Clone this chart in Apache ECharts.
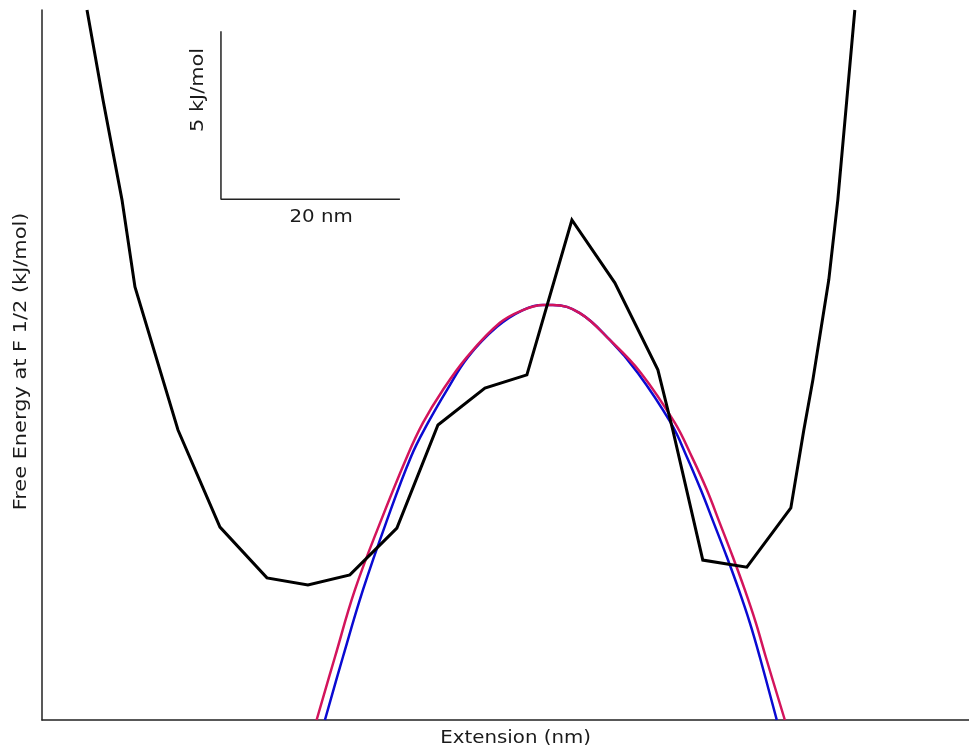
<!DOCTYPE html>
<html>
<head>
<meta charset="utf-8">
<title>Free energy profile</title>
<script src="https://cdn.jsdelivr.net/npm/echarts@6/dist/echarts.min.js"></script>
<style>
  html, body { margin: 0; padding: 0; background: #fff; }
  #chart { width: 969px; height: 754px; }
</style>
</head>
<body>
<div id="chart"></div>
<script>
// Free energy profile (black), with two fitted barrier curves (blue, crimson).
// Extension in nm, energy in kJ/mol; the axes carry no ticks, a scale bar gives units.

const profileX = [5.03, 6.82, 8.94, 10.39, 15.20, 19.89, 25.14, 29.72, 34.41, 39.66, 44.25, 49.50, 54.19,
                  59.22, 64.02, 68.83, 70.50, 73.85, 78.77, 83.69, 85.14, 86.15, 87.93, 88.94, 89.94, 90.84];
const profileY = [21.13, 18.45, 15.48, 12.89, 8.63, 5.74, 4.23, 4.02, 4.32, 5.71, 8.78, 9.88, 10.27,
                  14.88, 13.01, 10.42, 8.63, 4.76, 4.55, 6.31, 8.63, 10.12, 13.10, 15.48, 18.45, 21.13];

const fitRedX = [30.69, 32.74, 34.97, 37.77, 40.78, 42.57, 44.80, 47.49, 51.17, 53.74, 55.98, 57.09,
                 60.11, 63.46, 66.93, 70.73, 72.63, 74.30, 75.75, 77.21, 78.55, 79.78, 80.89, 83.02];
const fitRedY = [0, 1.875, 3.87, 5.86, 7.83, 8.84, 9.82, 10.80, 11.82, 12.20, 12.35, 12.35,
                 12.11, 11.31, 10.33, 8.84, 7.83, 6.85, 5.86, 4.85, 3.87, 2.89, 1.875, 0];

const fitBlueX = [31.62, 33.63, 35.87, 38.44, 41.23, 43.13, 45.25, 47.60, 50.84, 53.74, 55.98, 57.09,
                  60.11, 63.46, 66.59, 70.28, 72.07, 73.63, 75.08, 76.54, 77.88, 79.11, 80.22, 82.12];
const fitBlueY = [0, 1.875, 3.87, 5.86, 7.83, 8.84, 9.82, 10.80, 11.70, 12.20, 12.35, 12.35,
                  12.11, 11.31, 10.33, 8.84, 7.83, 6.85, 5.86, 4.85, 3.87, 2.89, 1.875, 0];

// Scale bar: 20 nm horizontally, 5 kJ/mol vertically, anchored at its corner.
const scaleBarCorner = [20, 15.5];
const scaleBarNm = 20;
const scaleBarKJ = 5;
const scaleLabelEnergy = '5 kJ/mol';
const scaleLabelLength = '20 nm';
const xTitle = 'Extension (nm)';
const yTitle = 'Free Energy at F 1/2 (kJ/mol)';

const xRange = [0, 103.6];
const yRange = [0, 21.13];

const zip = (xs, ys) => xs.map((x, i) => [x, ys[i]]);
const font = '"DejaVu Sans", Verdana, sans-serif';
const ink = '#1a1a1a';

const chart = echarts.init(document.getElementById('chart'), null, { renderer: 'canvas' });

const scaleBarData = [
  [scaleBarCorner[0], scaleBarCorner[1] + scaleBarKJ],
  [scaleBarCorner[0], scaleBarCorner[1]],
  [scaleBarCorner[0] + scaleBarNm, scaleBarCorner[1]]
];

chart.setOption({
  animation: false,
  backgroundColor: '#ffffff',
  grid: { left: 42, right: 0, top: 10, bottom: 34, containLabel: false },
  xAxis: {
    type: 'value', min: xRange[0], max: xRange[1],
    axisLine: { show: true, onZero: false, lineStyle: { color: '#222', width: 1.5 } },
    axisTick: { show: false }, axisLabel: { show: false }, splitLine: { show: false }
  },
  yAxis: {
    type: 'value', min: yRange[0], max: yRange[1],
    axisLine: { show: true, onZero: false, lineStyle: { color: '#222', width: 1.5 } },
    axisTick: { show: false }, axisLabel: { show: false }, splitLine: { show: false }
  },
  series: [
    {
      name: 'scale bar', type: 'line', data: scaleBarData, symbol: 'none',
      lineStyle: { color: '#222', width: 1.5 }, silent: true
    },
    {
      name: 'fit blue', type: 'line', data: zip(fitBlueX, fitBlueY), symbol: 'none',
      smooth: 0.4, clip: true, lineStyle: { color: '#0a0ad2', width: 2.5 }
    },
    {
      name: 'fit red', type: 'line', data: zip(fitRedX, fitRedY), symbol: 'none',
      smooth: 0.4, clip: true, lineStyle: { color: '#d3145c', width: 2.5 }
    },
    {
      name: 'profile', type: 'line', data: zip(profileX, profileY), symbol: 'none',
      clip: true, lineStyle: { color: '#000', width: 3, join: 'miter' }
    }
  ]
});

// Titles and scale bar captions, placed from axis coordinates.
const px = (x, y) => chart.convertToPixel({ gridIndex: 0 }, [x, y]);
const vMid = px(scaleBarCorner[0], scaleBarCorner[1] + scaleBarKJ * 0.65);
const hMid = px(scaleBarCorner[0] + scaleBarNm * 0.56, scaleBarCorner[1]);
const xMid = px(xRange[0] + (xRange[1] - xRange[0]) * 0.511, yRange[0]);
const yMid = px(xRange[0], yRange[0] + (yRange[1] - yRange[0]) * 0.505);

const textStyle = (text) => ({ text, font: '18px ' + font, fill: ink, align: 'center', verticalAlign: 'middle' });

chart.setOption({
  graphic: [
    { type: 'text', x: vMid[0] - 23, y: vMid[1], rotation: Math.PI / 2, scaleX: 1.16, style: textStyle(scaleLabelEnergy) },
    { type: 'text', x: hMid[0], y: hMid[1] + 18, scaleX: 1.1, style: textStyle(scaleLabelLength) },
    { type: 'text', x: xMid[0], y: xMid[1] + 18, scaleX: 1.1, style: textStyle(xTitle) },
    { type: 'text', x: yMid[0] - 21, y: yMid[1], rotation: Math.PI / 2, scaleX: 1.16, style: textStyle(yTitle) }
  ]
});
</script>
</body>
</html>
